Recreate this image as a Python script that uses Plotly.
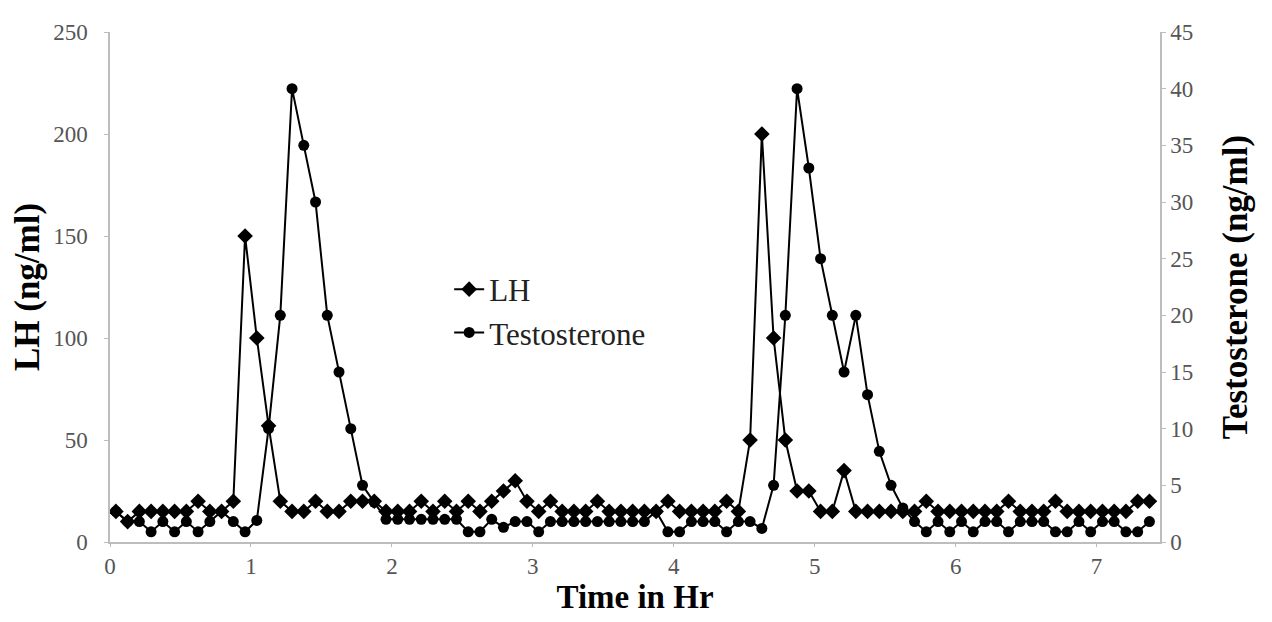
import plotly.graph_objects as go

# Sampling times (minutes from start), 5-min sampling
time_min = [2.5, 7.5, 12.5, 17.5, 22.5, 27.5, 32.5, 37.5, 42.5, 47.5,
            52.5, 57.5, 62.5, 67.5, 72.5, 77.5, 82.5, 87.5, 92.5, 97.5,
            102.5, 107.5, 112.5, 117.5, 122.5, 127.5, 132.5, 137.5, 142.5, 147.5,
            152.5, 157.5, 162.5, 167.5, 172.5, 177.5, 182.5, 187.5, 192.5, 197.5,
            202.5, 207.5, 212.5, 217.5, 222.5, 227.5, 232.5, 237.5, 242.5, 247.5,
            252.5, 257.5, 262.5, 267.5, 272.5, 277.5, 282.5, 287.5, 292.5, 297.5,
            302.5, 307.5, 312.5, 317.5, 322.5, 327.5, 332.5, 337.5, 342.5, 347.5,
            352.5, 357.5, 362.5, 367.5, 372.5, 377.5, 382.5, 387.5, 392.5, 397.5,
            402.5, 407.5, 412.5, 417.5, 422.5, 427.5, 432.5, 437.5, 442.5]
time_hr = [m / 60 for m in time_min]

lh = [15, 10, 15, 15, 15, 15, 15, 20, 15, 15,
      20, 150, 100, 57, 20, 15, 15, 20, 15, 15,
      20, 20, 20, 15, 15, 15, 20, 15, 20, 15,
      20, 15, 20, 25, 30, 20, 15, 20, 15, 15,
      15, 20, 15, 15, 15, 15, 15, 20, 15, 15,
      15, 15, 20, 15, 50, 200, 100, 50, 25, 25,
      15, 15, 35, 15, 15, 15, 15, 15, 15, 20,
      15, 15, 15, 15, 15, 15, 20, 15, 15, 15,
      20, 15, 15, 15, 15, 15, 15, 20, 20]

testosterone = [2.7, 1.8, 1.8, 0.9, 1.8, 0.9, 1.8, 0.9, 1.8, 2.7,
                1.8, 0.9, 1.9, 10, 20, 40, 35, 30, 20, 15,
                10, 5, 3.5, 2, 2, 2, 2, 2, 2, 2,
                0.9, 0.9, 2, 1.3, 1.8, 1.8, 0.9, 1.8, 1.8, 1.8,
                1.8, 1.8, 1.8, 1.8, 1.8, 1.8, 2.7, 0.9, 0.9, 1.8,
                1.8, 1.8, 0.9, 1.8, 1.8, 1.2, 5, 20, 40, 33,
                25, 20, 15, 20, 13, 8, 5, 3, 1.8, 0.9,
                1.8, 0.9, 1.8, 0.9, 1.8, 1.8, 0.9, 1.8, 1.8, 1.8,
                0.9, 0.9, 1.8, 0.9, 1.8, 1.8, 0.9, 0.9, 1.8]

x_ticks = [0, 1, 2, 3, 4, 5, 6, 7]
lh_ticks = [0, 50, 100, 150, 200, 250]
t_ticks = [0, 5, 10, 15, 20, 25, 30, 35, 40, 45]

SERIF = "Liberation Serif, Times New Roman, serif"
AXIS_COL = "#bdbdbd"
TICK_FONT = dict(family=SERIF, size=23, color="#555555")
TITLE_SIZE = 35

fig = go.Figure()
fig.add_trace(go.Scatter(
    x=time_hr, y=lh, name="LH", mode="lines+markers",
    line=dict(color="black", width=2),
    marker=dict(symbol="diamond", size=12, color="black"),
    yaxis="y"))
fig.add_trace(go.Scatter(
    x=time_hr, y=testosterone, name="Testosterone", mode="lines+markers",
    line=dict(color="black", width=2),
    marker=dict(symbol="circle", size=11, color="black"),
    yaxis="y2"))

fig.update_layout(
    width=1272, height=622,
    paper_bgcolor="white", plot_bgcolor="white",
    margin=dict(l=102, r=120, t=12, b=88),
    font=dict(family=SERIF, color="black"),
    showlegend=True,
    legend=dict(x=0.323, y=0.548, xanchor="left", yanchor="top",
                bgcolor="rgba(0,0,0,0)", font=dict(family=SERIF, size=31, color="#222222"),
                itemwidth=30, tracegroupgap=0),
    xaxis=dict(range=[0, 7.45], tickvals=x_ticks, ticktext=[str(v) for v in x_ticks],
               showline=True, linecolor=AXIS_COL, linewidth=1.5, mirror=False,
               ticks="outside", ticklen=3, tickcolor=AXIS_COL,
               showgrid=False, zeroline=False, tickfont=TICK_FONT,
               title=dict(text="<b>Time in Hr</b>", font=dict(family=SERIF, size=33, color="black"),
                          standoff=3)),
    yaxis=dict(range=[0, 250], tickvals=lh_ticks, showline=True, linecolor=AXIS_COL, linewidth=1.5,
               ticks="outside", ticklen=4, tickcolor=AXIS_COL, ticklabelstandoff=12,
               showgrid=False, zeroline=False, tickfont=TICK_FONT,
               title=dict(text="<b>LH (ng/ml)</b>", font=dict(family=SERIF, size=TITLE_SIZE, color="black"),
                          standoff=4)),
    yaxis2=dict(range=[0, 45], tickvals=t_ticks, overlaying="y", side="right",
                showline=True, linecolor=AXIS_COL, linewidth=1.5,
                ticks="outside", ticklen=4, tickcolor=AXIS_COL,
                showgrid=False, zeroline=False, tickfont=TICK_FONT,
                title=dict(text="<b>Testosterone (ng/ml)</b>", font=dict(family=SERIF, size=TITLE_SIZE, color="black"),
                           standoff=30)),
)

fig.write_html("out.html")
